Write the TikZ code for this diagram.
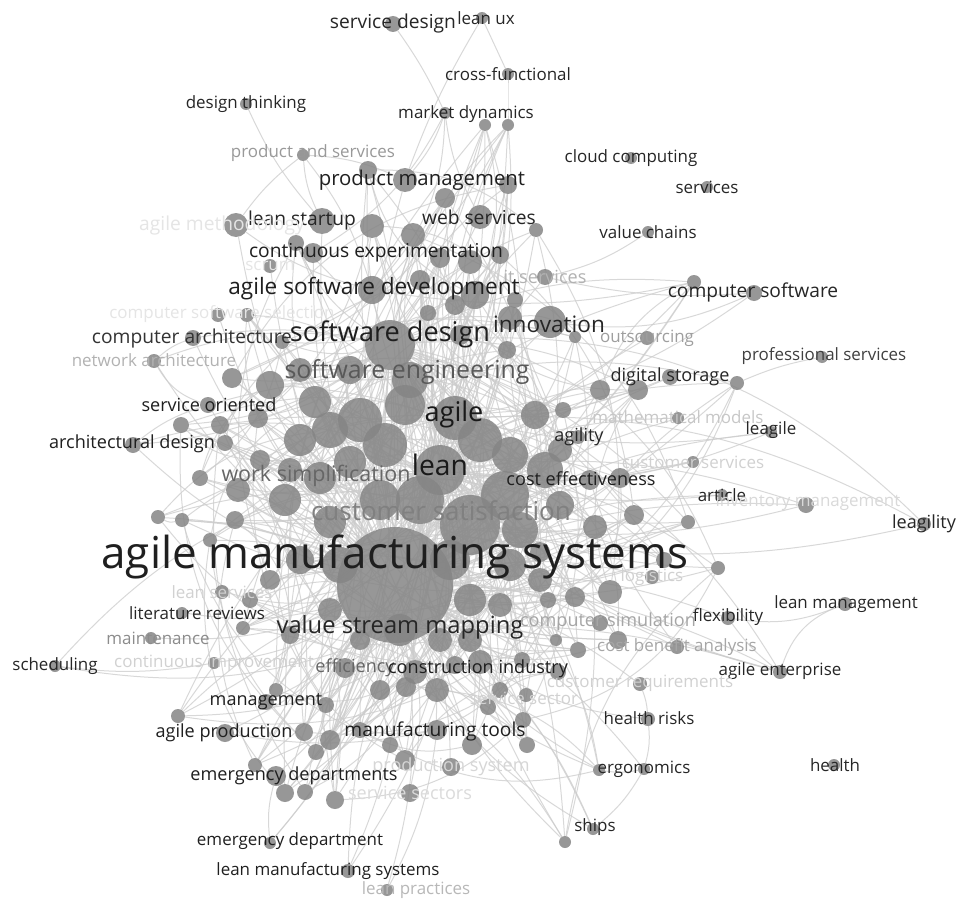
\documentclass[tikz,border=0pt]{standalone}
\usepackage{fontspec}
\setmainfont{Open Sans}
\usetikzlibrary{backgrounds}

\tikzset{
  dot/.style={circle, inner sep=0pt, fill=black!48, fill opacity=0.85},
  kw/.style={inner sep=0pt, anchor=center},
  link/.style={draw=black!20, line width=1pt, draw opacity=0.75}
}

% keywords: name/x/y/radius/label x/label y/text/size/shade
\def\kwlist{
  sdsn/393/24/8/393/24/service design/17/85,
  lux/482/18/6/486/18/lean ux/15/85,
  xfun/508/74/6/508/74/cross-functional/15/85,
  dthk/246/104/6/246/104/design thinking/15/85,
  mdyn/445/113/6/466/114/market dynamics/15/85,
  pns/303/155/6/313/153/product and services/15/40,
  pmgt/405/180/12/422/180/product management/18/88,
  ccmp/631/158/6/631/158/cloud computing/15/85,
  serv/707/187/6/707/187/services/15/85,
  lsta/322/221/13/302/221/lean startup/17/85,
  wsrv/480/217/12/479/217/web services/17/85,
  vch/648/232/6/648/232/value chains/15/85,
  amet/236/225/12/222/226/agile methodology/17/10,
  scrm/270/266/7/270/266/scrum/15/10,
  itsv/545/277/8/545/277/it services/16/30,
  cexp/313/253/10/376/253/continuous experimentation/17/88,
  asd/372/290/14/374/289/agile software development/20/88,
  csw/754/293/8/753/292/computer software/17/85,
  css/218/315/7/222/314/computer software selection/15/10,
  carc/193/338/8/192/339/computer architecture/17/80,
  sdes/390/345/25/390/334/software design/24/88,
  inno/550/322/16/549/324/innovation/20/85,
  outs/647/338/7/647/338/outsourcing/15/38,
  narc/154/361/7/154/360/network architecture/15/30,
  psrv/822/357/6/824/356/professional services/15/75,
  seng/410/380/18/407/372/software engineering/22/65,
  dsto/670/377/8/670/377/digital storage/16/85,
  sori/208/405/8/209/405/service oriented/16/88,
  agi/455/418/22/454/414/agile/24/90,
  mmod/678/418/6/678/417/mathematical models/15/22,
  leag/771/432/6/771/430/leagile/15/85,
  aty/578/437/7/579/437/agility/16/85,
  adsn/133/445/8/132/444/architectural design/16/88,
  lean/440/470/25/440/465/lean/25/90,
  wsim/320/478/16/316/476/work simplification/19/60,
  ceff/590/480/10/581/479/cost effectiveness/16/88,
  csrv/693/462/6/693/462/customer services/15/18,
  art/722/495/6/722/495/article/15/85,
  invm/806/505/8/808/502/inventory management/15/15,
  lgty/924/524/7/924/524/leagility/16/85,
  csat/470/525/30/441/511/customer satisfaction/23/50,
  logi/652/577/7/652/577/logistics/15/18,
  lsrv/222/592/7/222/592/lean services/15/18,
  lmgt/845/604/7/846/604/lean management/15/85,
  litr/182/613/6/197/613/literature reviews/15/85,
  flex/728/618/7/728/617/flexibility/15/85,
  vsm/400/630/16/400/627/value stream mapping/21/85,
  csim/600/623/8/608/622/computer simulation/16/35,
  mnt/151/638/6/158/638/maintenance/15/45,
  cba/677/647/7/677/647/cost benefit analysis/15/35,
  schd/55/666/6/55/666/scheduling/15/85,
  cimp/214/663/6/214/663/continuous improvement/15/18,
  effc/345/668/10/355/668/efficiency/16/60,
  cind/480/662/12/478/669/construction industry/16/88,
  aent/780/672/7/780/671/agile enterprise/15/85,
  creq/640/684/7/640/683/customer requirements/15/18,
  ssec/526/695/7/524/698/service sector/15/18,
  mgmt/266/702/8/266/702/management/16/88,
  hrsk/648/719/7/649/718/health risks/15/85,
  aprd/225/733/9/224/733/agile production/16/88,
  mtls/437/730/10/435/731/manufacturing tools/17/88,
  psys/451/767/9/451/767/production system/16/16,
  ergo/644/769/6/644/769/ergonomics/15/85,
  hlth/834/765/6/835/765/health/15/85,
  edps/276/776/10/294/776/emergency departments/16/88,
  ssct/410/793/9/410/793/service sectors/16/14,
  ship/593/829/6/595/827/ships/15/85,
  edpt/270/843/6/290/841/emergency department/15/88,
  lms/348/871/7/328/871/lean manufacturing systems/15/88,
  lprc/387/890/6/416/890/lean practices/15/28}

% unlabelled items: x/y/radius
\def\ndots{118}
\def\dotlist{
  368/170/9,508/185/9,445/198/10,372/226/12,413/235/12,470/262/12,500/255/9,
  536/230/7,440/258/10,296/243/8,515/300/8,475/295/14,510/318/12,420/280/10,
  455/305/10,460/335/10,507/350/9,428/313/8,485/125/6,508/125/6,247/315/7,
  282/342/7,232/378/10,270/385/14,315/402/16,258/418/10,220/425/9,181/425/8,
  225/443/8,300/440/16,330/430/18,360/420/22,385/445/22,405/405/20,350/462/16,
  238/490/12,200/478/8,158/517/7,182/520/7,210/540/7,235/520/9,285/500/16,
  330/522/16,575/337/6,563/410/8,535/415/14,600/390/10,638/390/10,620/478/10,
  634/515/10,595/527/12,560/505/14,540/552/10,688/522/7,718/568/7,664/560/8,
  610/592/12,575/597/10,548/600/8,500/605/12,510/565/16,470/640/12,415/672/12,
  437/690/12,455/665/9,406/687/10,380/690/10,290/635/9,243/628/7,276/690/7,
  326/705/8,304/732/9,316/752/8,330/740/10,360/730/8,390/745/8,405/760/10,
  472/745/10,488/707/8,523/720/8,527/745/8,558/672/8,578/650/8,618/640/9,
  556/640/6,522/660/8,285/793/9,305/792/8,335/800/9,255/765/7,178/716/7,
  565/842/6,737/383/7,694/282/7,599/770/6,480/440/22,420/500/24,505/495/24,
  545/470/18,510/455/18,380/500/20,450/560/20,520/530/18,290/470/12,260/460/10,
  560/450/12,350/370/14,300/370/12,340/565/18,300/560/14,270/580/10,250/600/8,
  540/580/12,470/600/16,330/610/12,360/640/10,440/640/12,500/690/8}

\begin{document}
\begin{tikzpicture}[x=1pt, y=-1pt]

  \useasboundingbox (0,0) rectangle (959,899);

  % the hub
  \node[dot, minimum size=116] (ams) at (395,585) {};

  % items
  \foreach \x/\y/\r [count=\i] in \dotlist {
    \node[dot, minimum size=2*\r] (d\i) at (\x,\y) {};
  }
  \foreach \n/\x/\y/\r/\lx/\ly/\t/\s/\c in \kwlist {
    \node[dot, minimum size=2*\r] (\n) at (\x,\y) {};
  }

  % links
  \begin{scope}[on background layer]
    \fill[white] (0,0) rectangle (959,899);
    \foreach \i in {1,...,\ndots} {
      \pgfmathtruncatemacro\j{mod(\i*7,\ndots)+1}
      \pgfmathtruncatemacro\k{mod(\i*11,\ndots)+1}
      \draw[link] (d\i) to[bend left=10] (ams);
      \draw[link] (d\i) to[bend left=20] (d\j);
      \draw[link] (d\i) to[bend right=25] (d\k);
      \ifodd\i
        \draw[link] (d\i) to[bend right=15] (lean);
      \else
        \draw[link] (d\i) to[bend right=15] (sdes);
      \fi
    }
    \foreach \n in {pmgt,lsta,wsrv,cexp,asd,sdes,inno,seng,agi,lean,wsim,ceff,
      csat,vsm,cind,effc,mgmt,aprd,mtls,edps,edpt,lms,lprc,psys,ssct,litr,
      mnt,lsrv,cimp,ssec,creq,csim,cba,logi,flex,aent,art,invm,aty,mmod,
      csrv,dsto,outs,itsv,sori,adsn,carc,narc,css,scrm,amet,ship,ergo}
      \draw[link] (\n) to[bend right=12] (ams);
    \foreach \a/\b/\k in {sdsn/mdyn/5, lux/xfun/0, lux/pmgt/-5, xfun/d20/0,
      dthk/lsta/-8, mdyn/pmgt/10, mdyn/wsrv/-10, mdyn/cexp/15, mdyn/asd/20,
      d19/sdes/10, d20/agi/-15, pns/pmgt/10, pns/lsta/-10, pns/asd/10,
      pns/amet/-8, vch/itsv/10, csw/inno/15, csw/itsv/8, csw/agi/12,
      d94/asd/10, psrv/d93/-6, dsto/agi/10, leag/agi/10, leag/lean/15,
      leag/csat/-10, lgty/csat/12, lgty/agi/-15, art/lean/10, invm/csat/10,
      invm/lean/-12, lmgt/aent/-25, lmgt/flex/15, aent/csat/10, aent/vsm/-10,
      aent/lean/15, aent/flex/8, hrsk/ergo/10, hrsk/creq/-8, hrsk/cind/12,
      ergo/ship/10, ship/cind/-10, ship/vsm/15, d95/ergo/-10, schd/cimp/-8,
      schd/lean/20, edpt/edps/10, lms/vsm/10, lprc/mtls/-10, narc/carc/10,
      narc/sori/-20, narc/sdes/15, adsn/sori/10, adsn/sdes/-15, adsn/lean/20,
      carc/sdes/10, amet/asd/-10, sori/seng/8, aty/lean/10, mmod/lean/-10,
      csrv/lean/10, cba/ceff/10, csim/lean/-10, aprd/mtls/-10, mgmt/lean/15,
      lgty/sdes/-25, aent/agi/-20, schd/vsm/-15, edpt/lean/-15, lms/agi/-20}
      \draw[link] (\a) to[bend left=\k] (\b);
  \end{scope}

  % labels on top
  \foreach \n/\x/\y/\r/\lx/\ly/\t/\s/\c in \kwlist {
    \pgfmathsetmacro\fs{\s*1.13}
    \node[kw, font={\fontsize{\fs}{\fs}\selectfont}, text=black!\c] (\n-t) at (\lx,\ly) {\t};
  }
  \node[kw, font={\fontsize{44}{44}\selectfont}, text=black!88] (ams-t) at (395,557) {agile manufacturing systems};

\end{tikzpicture}
\end{document}
